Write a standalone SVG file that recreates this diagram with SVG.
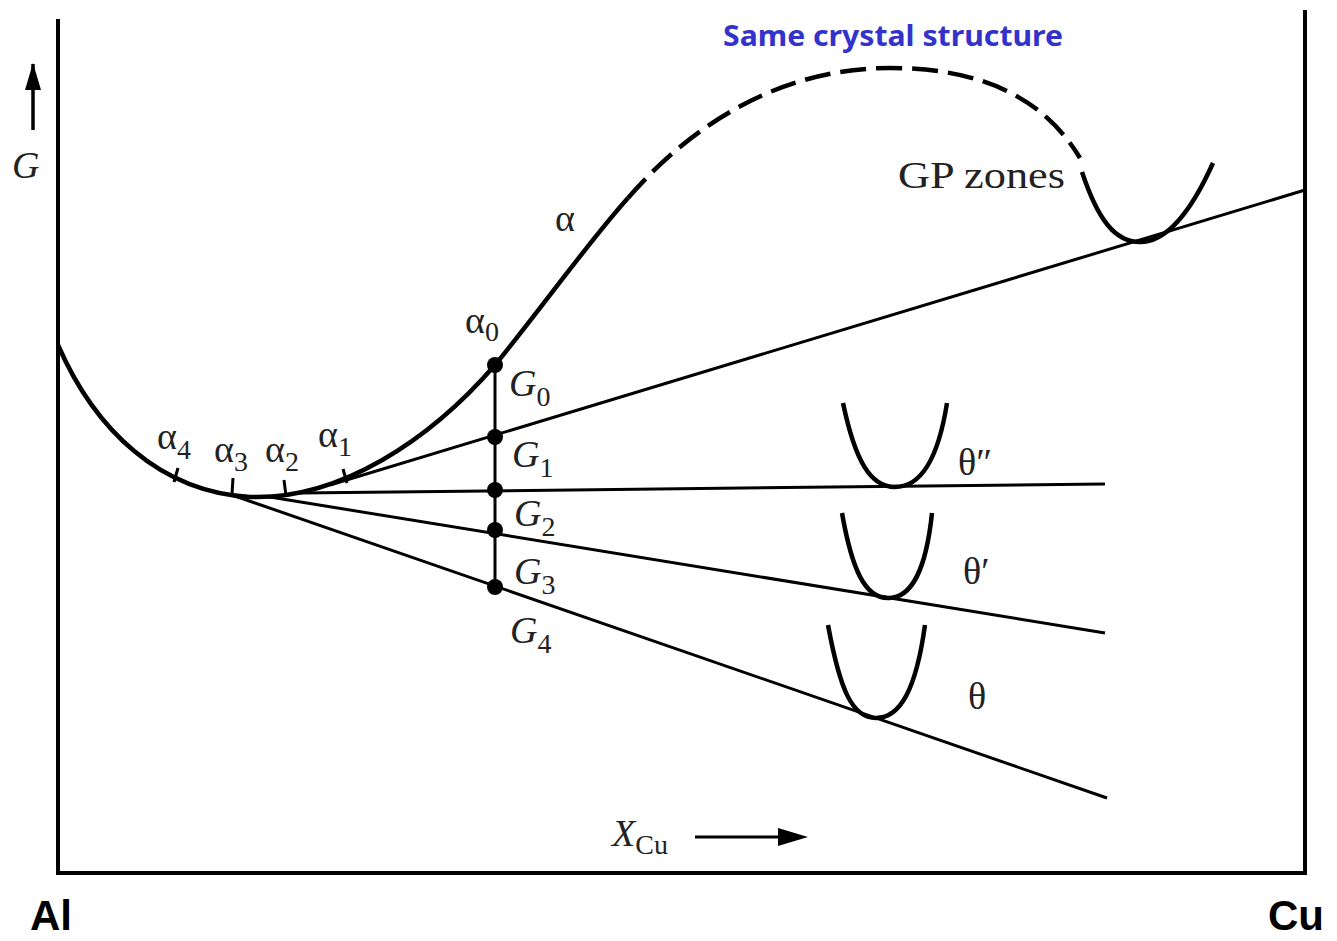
<svg xmlns="http://www.w3.org/2000/svg" width="1337" height="941" viewBox="0 0 1337 941">
<style>
.frame{fill:none;stroke:#000;stroke-width:4}
.curve{fill:none;stroke:#000;stroke-width:4.5;stroke-linecap:butt}
.line{fill:none;stroke:#000;stroke-width:3}
.lbl{font-family:"Liberation Serif",serif;font-size:38px;fill:#222}
.it{font-style:italic}
.sub{font-size:28px;font-style:normal}
.dot{fill:#000}
</style>
<rect width="1337" height="941" fill="#fff"/>
<g id="frame">
<path class="frame" d="M58,19 V873 H1305 V10"/>
</g>
<g id="axis-G">
<line x1="33" y1="130" x2="33" y2="64" stroke="#000" stroke-width="3.5"/>
<path d="M25,90 L33,63 L41,90 Z" fill="#000"/>
<text class="lbl it" x="12" y="178">G</text>
</g>
<g id="axis-X">
<text class="lbl it" x="612" y="846">X<tspan class="sub" dy="8">Cu</tspan></text>
<line x1="695" y1="837" x2="780" y2="837" stroke="#000" stroke-width="3"/>
<path d="M778,828 L808,837 L778,846 Z" fill="#000"/>
</g>
<g id="connectors">
<line class="line" x1="330" y1="485" x2="1305" y2="190"/>
<line class="line" x1="300" y1="493" x2="1105" y2="484"/>
<line class="line" x1="270" y1="497" x2="1105" y2="633"/>
<line class="line" x1="232" y1="495" x2="1107" y2="798"/>
<line class="line" x1="495" y1="365" x2="495" y2="587"/>
</g>
<g id="alpha-curve">
<path class="curve" d="M58,345 C95,430 160,492 250,497 C340,500 430,440 495,365 C540,310 590,240 628,198"/>
<path class="curve" stroke-dasharray="26,10" d="M628,198 C700,115 790,68 890,68 C985,68 1045,100 1080,158"/>
<g stroke="#000" stroke-width="3">
<line x1="178" y1="468" x2="174" y2="482"/>
<line x1="233" y1="478" x2="232" y2="494"/>
<line x1="284" y1="480" x2="286" y2="496"/>
<line x1="343" y1="469" x2="347" y2="483"/>
</g>
</g>
<g id="GP-zones">
<path class="curve" d="M1082,172 C1098,220 1115,242 1140,242 C1170,242 1195,203 1213,163"/>
<text class="lbl" x="898" y="188" font-size="40" textLength="167" lengthAdjust="spacingAndGlyphs">GP zones</text>
</g>
<g id="theta2">
<path class="curve" d="M843,403 C855,460 870,487 895,487 C920,487 938,460 947,403"/>
<text class="lbl" x="958" y="475">θ″</text>
</g>
<g id="theta1">
<path class="curve" d="M842,513 C852,570 865,598 888,598 C912,598 926,570 932,513"/>
<text class="lbl" x="963" y="584">θ′</text>
</g>
<g id="theta">
<path class="curve" d="M828,625 C840,690 852,718 876,718 C900,718 916,690 925,625"/>
<text class="lbl" x="968" y="709">θ</text>
</g>
<g id="points">
<circle class="dot" cx="495" cy="365" r="8"/>
<circle class="dot" cx="495" cy="437" r="8"/>
<circle class="dot" cx="495" cy="490" r="8"/>
<circle class="dot" cx="495" cy="530" r="8"/>
<circle class="dot" cx="495" cy="587" r="8"/>
</g>
<g id="labels">
<text class="lbl" x="465" y="333">α<tspan class="sub" dy="8">0</tspan></text>
<text class="lbl" x="555" y="231">α</text>
<text class="lbl" x="157" y="449">α<tspan class="sub" dy="10">4</tspan></text>
<text class="lbl" x="214" y="462">α<tspan class="sub" dy="9">3</tspan></text>
<text class="lbl" x="265" y="462">α<tspan class="sub" dy="9">2</tspan></text>
<text class="lbl" x="318" y="447">α<tspan class="sub" dy="9">1</tspan></text>
<text class="lbl it" x="509" y="396">G<tspan class="sub" dy="10">0</tspan></text>
<text class="lbl it" x="512" y="467">G<tspan class="sub" dy="10">1</tspan></text>
<text class="lbl it" x="514" y="526">G<tspan class="sub" dy="10">2</tspan></text>
<text class="lbl it" x="514" y="584">G<tspan class="sub" dy="10">3</tspan></text>
<text class="lbl it" x="510" y="643">G<tspan class="sub" dy="10">4</tspan></text>
</g>
<text x="723" y="46" font-family="'Noto Sans',sans-serif" font-weight="bold" font-size="28" fill="#3333cc" textLength="340" lengthAdjust="spacingAndGlyphs">Same crystal structure</text>
<text x="30" y="930" font-family="'Liberation Sans',sans-serif" font-weight="bold" font-size="42" fill="#000">Al</text>
<text x="1268" y="930" font-family="'Liberation Sans',sans-serif" font-weight="bold" font-size="42" fill="#000">Cu</text>
</svg>
